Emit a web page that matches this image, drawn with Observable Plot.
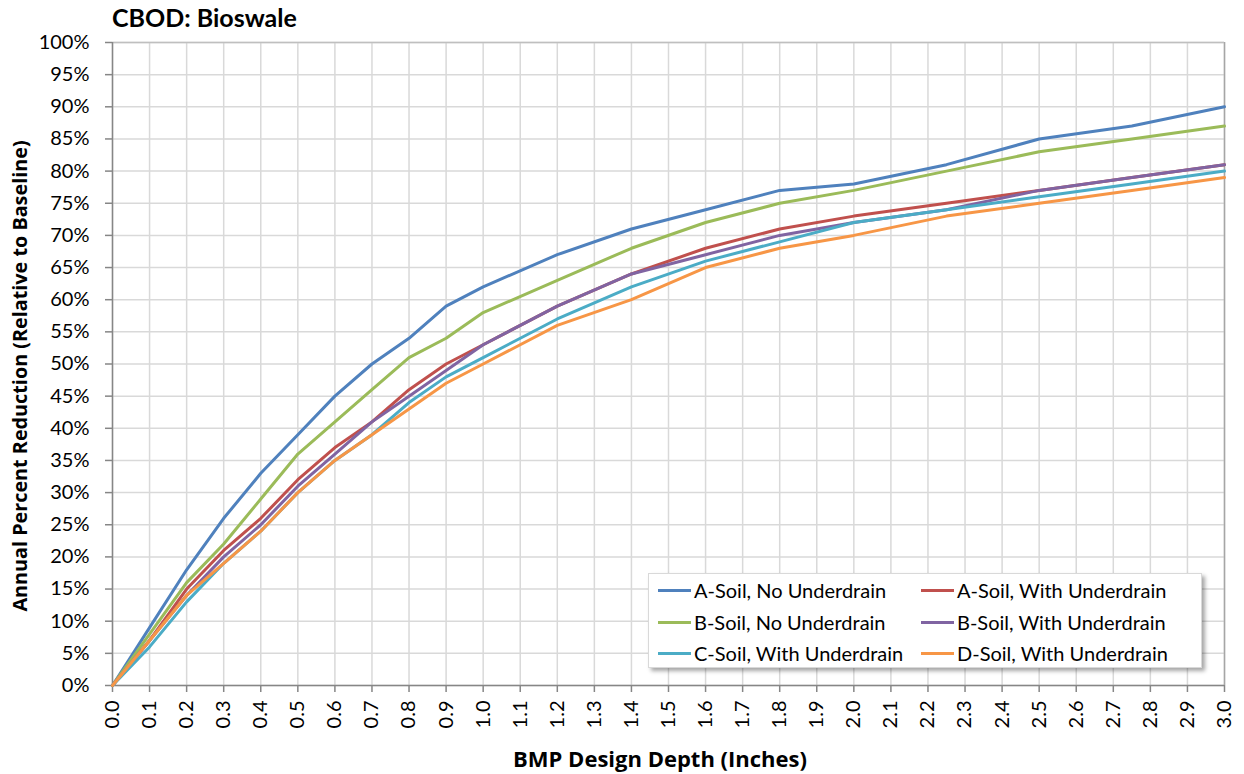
<!DOCTYPE html>
<html>
<head>
<meta charset="utf-8">
<script src="https://cdn.jsdelivr.net/npm/d3@7"></script>
<script src="https://cdn.jsdelivr.net/npm/@observablehq/plot@0.6"></script>
<style>
  html, body { margin: 0; padding: 0; background: #fff; }
  #wrap { position: relative; width: 1244px; height: 774px; font-family: Lato, "Open Sans", sans-serif; color: #000; }
  #wrap svg { position: absolute; left: 0; top: 0; }
  .title { position: absolute; left: 112px; top: 5px; font-weight: bold; font-size: 25px; line-height: 1; white-space: nowrap; }
  .xlabel { position: absolute; left: 660px; top: 758px; transform: translate(-50%, -50%); font-family: "Open Sans", sans-serif; font-weight: bold; font-size: 22px; line-height: 1; white-space: nowrap; }
  .ylabel { position: absolute; left: 20px; top: 376px; transform: translate(-50%, -50%) rotate(-90deg); font-family: "Open Sans", sans-serif; font-weight: bold; font-size: 19.8px; line-height: 1; white-space: nowrap; }
  .legend { position: absolute; left: 648px; top: 573px; width: 554px; height: 95px; background: #fff; border: 1px solid #d9d9d9; box-sizing: border-box; box-shadow: 3px 3px 4px rgba(0,0,0,0.35); }
  .item { position: absolute; display: flex; align-items: center; font-size: 20px; line-height: 1; white-space: nowrap; }
  .swatch { width: 33px; height: 3px; margin-right: 3px; }
</style>
</head>
<body>
<div id="wrap"></div>
<script>
// ---- data ----
const depths = [0, 0.1, 0.2, 0.3, 0.4, 0.5, 0.6, 0.7, 0.8, 0.9, 1.0, 1.2, 1.4, 1.6, 1.8, 2.0, 2.25, 2.5, 2.75, 3.0];
const seriesNames = [
  "A-Soil, No Underdrain",
  "A-Soil, With Underdrain",
  "B-Soil, No Underdrain",
  "B-Soil, With Underdrain",
  "C-Soil, With Underdrain",
  "D-Soil, With Underdrain"
];
const aSoilNoUD   = [0, 9, 18, 26, 33, 39, 45, 50, 54, 59, 62, 67, 71, 74, 77, 78, 81, 85, 87, 90];
const aSoilWithUD = [0, 7, 15, 21, 26, 32, 37, 41, 46, 50, 53, 59, 64, 68, 71, 73, 75, 77, 79, 81];
const bSoilNoUD   = [0, 8, 16, 22, 29, 36, 41, 46, 51, 54, 58, 63, 68, 72, 75, 77, 80, 83, 85, 87];
const bSoilWithUD = [0, 7, 14, 20, 25, 31, 36, 41, 45, 49, 53, 59, 64, 67, 70, 72, 74, 77, 79, 81];
const cSoilWithUD = [0, 6, 13, 19, 24, 30, 35, 39, 44, 48, 51, 57, 62, 66, 69, 72, 74, 76, 78, 80];
const dSoilWithUD = [0, 7, 14, 19, 24, 30, 35, 39, 43, 47, 50, 56, 60, 65, 68, 70, 73, 75, 77, 79];
const seriesColors = ["#4F81BD", "#C0504D", "#9BBB59", "#8064A2", "#4BACC6", "#F79646"];
const xTicks = d3.range(0, 31).map(i => i / 10);
const yTicks = d3.range(0, 21).map(i => i * 5);
const titleText = "CBOD: Bioswale";
const xLabelText = "BMP Design Depth (Inches)";
const yLabelText = "Annual Percent Reduction (Relative to Baseline)";

// ---- build table ----
const seriesValues = [aSoilNoUD, aSoilWithUD, bSoilNoUD, bSoilWithUD, cSoilWithUD, dSoilWithUD];
const rows = [];
seriesNames.forEach((name, s) => {
  depths.forEach((d, i) => rows.push({series: name, depth: d, value: seriesValues[s][i]}));
});

const axisGray = "#868686";
const gridGray = "#d9d9d9";

const chart = Plot.plot({
  width: 1244,
  height: 774,
  marginLeft: 112,
  marginRight: 20,
  marginTop: 42,
  marginBottom: 89,
  style: {fontFamily: "Lato, 'Open Sans', sans-serif", fontSize: "20px", color: "#000", background: "transparent"},
  x: {domain: [0, 3]},
  y: {domain: [0, 100]},
  color: {domain: seriesNames, range: seriesColors},
  marks: [
    Plot.gridX(xTicks, {stroke: gridGray, strokeOpacity: 1, strokeWidth: 1.5}),
    Plot.gridY(yTicks, {stroke: gridGray, strokeOpacity: 1, strokeWidth: 1.5}),
    Plot.ruleX([3], {stroke: "#a6a6a6", strokeWidth: 1.5}),
    Plot.ruleY([100], {stroke: "#bfbfbf", strokeWidth: 1.5}),
    Plot.axisX(xTicks, {
      tickFormat: d3.format(".1f"), tickRotate: -90, tickSize: 7, tickPadding: 8,
      stroke: axisGray, strokeWidth: 1.5, label: null, fontSize: 20
    }),
    Plot.axisY(yTicks, {
      tickFormat: d => d + "%", tickSize: 7, tickPadding: 16,
      stroke: axisGray, strokeWidth: 1.5, label: null, fontSize: 20
    }),
    Plot.ruleX([0], {stroke: axisGray, strokeWidth: 1.5}),
    Plot.ruleY([0], {stroke: axisGray, strokeWidth: 1.5}),
    Plot.line(rows, {x: "depth", y: "value", z: "series", stroke: "series", strokeWidth: 3, strokeLinejoin: "round"})
  ]
});

const wrap = document.getElementById("wrap");
wrap.appendChild(chart);

function addDiv(cls, text) {
  const d = document.createElement("div");
  d.className = cls;
  d.textContent = text;
  wrap.appendChild(d);
  return d;
}
addDiv("title", titleText);
addDiv("xlabel", xLabelText);
addDiv("ylabel", yLabelText);

// legend (order as in reference: two columns, three rows)
const legend = document.createElement("div");
legend.className = "legend";
wrap.appendChild(legend);
const legendOrder = [
  [0, 0, 0], [1, 1, 0],
  [2, 0, 1], [3, 1, 1],
  [4, 0, 2], [5, 1, 2]
];
const colX = [9, 272];
const rowY = [16, 48, 79];
legendOrder.forEach(([s, c, r]) => {
  const it = document.createElement("div");
  it.className = "item";
  it.style.left = colX[c] + "px";
  it.style.top = (rowY[r] - 10) + "px";
  it.style.height = "20px";
  const sw = document.createElement("span");
  sw.className = "swatch";
  sw.style.background = seriesColors[s];
  const tx = document.createElement("span");
  tx.textContent = seriesNames[s];
  it.appendChild(sw);
  it.appendChild(tx);
  legend.appendChild(it);
});
</script>
</body>
</html>
